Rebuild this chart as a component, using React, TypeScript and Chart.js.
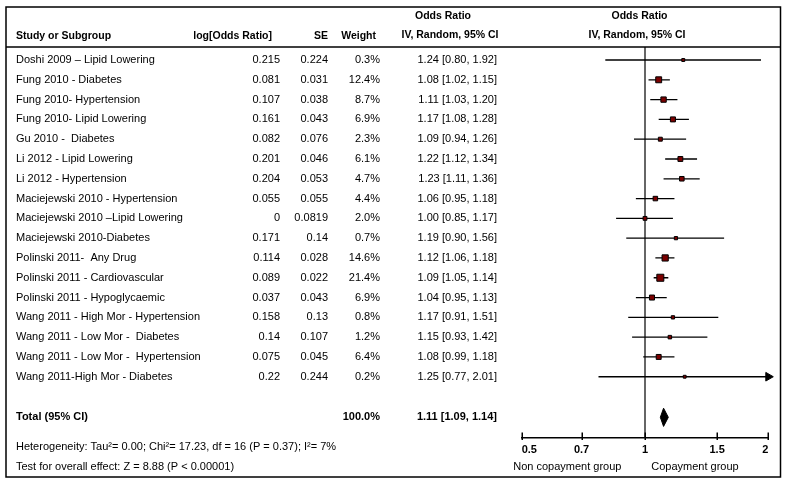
import React, { useEffect, useRef } from "react";
import { Chart, registerables } from "chart.js";

Chart.register(...registerables);

// ---------------- data ----------------
const studies = [
  "Doshi 2009 – Lipid Lowering",
  "Fung 2010 - Diabetes",
  "Fung 2010- Hypertension",
  "Fung 2010- Lipid Lowering",
  "Gu 2010 -  Diabetes",
  "Li 2012 - Lipid Lowering",
  "Li 2012 - Hypertension",
  "Maciejewski 2010 - Hypertension",
  "Maciejewski 2010 –Lipid Lowering",
  "Maciejewski 2010-Diabetes",
  "Polinski 2011-  Any Drug",
  "Polinski 2011 - Cardiovascular",
  "Polinski 2011 - Hypoglycaemic",
  "Wang 2011 - High Mor - Hypertension",
  "Wang 2011 - Low Mor -  Diabetes",
  "Wang 2011 - Low Mor -  Hypertension",
  "Wang 2011-High Mor - Diabetes",
];
const logOddsRatio = [0.215, 0.081, 0.107, 0.161, 0.082, 0.201, 0.204, 0.055, 0, 0.171, 0.114, 0.089, 0.037, 0.158, 0.14, 0.075, 0.22];
const standardErrors = [0.224, 0.031, 0.038, 0.043, 0.076, 0.046, 0.053, 0.055, 0.0819, 0.14, 0.028, 0.022, 0.043, 0.13, 0.107, 0.045, 0.244];
const weights = [0.3, 12.4, 8.7, 6.9, 2.3, 6.1, 4.7, 4.4, 2.0, 0.7, 14.6, 21.4, 6.9, 0.8, 1.2, 6.4, 0.2];
const oddsRatios = [1.24, 1.08, 1.11, 1.17, 1.09, 1.22, 1.23, 1.06, 1.0, 1.19, 1.12, 1.09, 1.04, 1.17, 1.15, 1.08, 1.25];
const ciLower = [0.8, 1.02, 1.03, 1.08, 0.94, 1.12, 1.11, 0.95, 0.85, 0.9, 1.06, 1.05, 0.95, 0.91, 0.93, 0.99, 0.77];
const ciUpper = [1.92, 1.15, 1.2, 1.28, 1.26, 1.34, 1.36, 1.18, 1.17, 1.56, 1.18, 1.14, 1.13, 1.51, 1.42, 1.18, 2.01];

const totalOR = 1.11;
const totalLower = 1.09;
const totalUpper = 1.14;
const totalWeight = 100.0;

const tickValues = [0.5, 0.7, 1, 1.5, 2];
const tickLabels = ["0.5", "0.7", "1", "1.5", "2"];

const headerStudy = "Study or Subgroup";
const headerLogOR = "log[Odds Ratio]";
const headerSE = "SE";
const headerWeight = "Weight";
const headerOR = "Odds Ratio";
const headerMethod = "IV, Random, 95% CI";
const totalLabel = "Total (95% CI)";
const heterogeneityText = "Heterogeneity: Tau²= 0.00; Chi²= 17.23, df = 16 (P = 0.37); I²= 7%";
const overallEffectText = "Test for overall effect: Z = 8.88 (P < 0.00001)";
const favoursLeft = "Non copayment group";
const favoursRight = "Copayment group";

// ---------------- layout constants ----------------
const W = 787;
const H = 494;
const X_MIN = 0.5;
const X_MAX = 2;
const TOTAL_ROW = 18.05;
const Y_MIN = -0.657;
const Y_MAX = 19.07;
const FONT = "'Liberation Sans', Arial, sans-serif";

const fmtCI = (o: number, l: number, u: number) => `${o.toFixed(2)} [${l.toFixed(2)}, ${u.toFixed(2)}]`;

const forestPlugin = {
  id: "forestText",
  afterDraw(chart: any) {
    const ctx = chart.ctx;
    const xs = chart.scales.x;
    const ys = chart.scales.y;
    ctx.save();
    // frame
    ctx.strokeStyle = "#000";
    ctx.lineWidth = 1.5;
    ctx.strokeRect(6, 7, 774.5, 470);
    ctx.beginPath();
    ctx.moveTo(6, 47);
    ctx.lineTo(780.5, 47);
    ctx.stroke();

    // axis tick marks
    const axisY = xs.top;
    ctx.lineWidth = 1.5;
    ctx.beginPath();
    tickValues.forEach((v) => {
      const px = Math.round(xs.getPixelForValue(v)) + 0.25;
      ctx.moveTo(px, axisY - 5);
      ctx.lineTo(px, axisY + 2.5);
    });
    ctx.stroke();

    ctx.fillStyle = "#000";
    ctx.textBaseline = "middle";
    const bold = `bold 10.5px ${FONT}`;
    const reg = `11px ${FONT}`;

    // headers
    ctx.font = bold;
    ctx.textAlign = "left";
    ctx.fillText(headerStudy, 16, 36);
    ctx.textAlign = "right";
    ctx.fillText(headerLogOR, 272, 36);
    ctx.fillText(headerSE, 328, 36);
    ctx.fillText(headerWeight, 376, 36);
    ctx.textAlign = "center";
    ctx.fillText(headerOR, 443, 16);
    ctx.fillText(headerMethod, 450, 35);
    ctx.fillText(headerOR, 639.5, 16);
    ctx.fillText(headerMethod, 637, 35);

    // rows
    ctx.font = reg;
    studies.forEach((name, i) => {
      const y = ys.getPixelForValue(i);
      ctx.textAlign = "left";
      ctx.fillText(name, 16, y);
      ctx.textAlign = "right";
      ctx.fillText(String(logOddsRatio[i]), 280, y);
      ctx.fillText(String(standardErrors[i]), 328, y);
      ctx.fillText(weights[i].toFixed(1) + "%", 380, y);
      ctx.fillText(fmtCI(oddsRatios[i], ciLower[i], ciUpper[i]), 497, y);
    });

    // total
    const ty = ys.getPixelForValue(TOTAL_ROW);
    ctx.font = `bold 11px ${FONT}`;
    ctx.textAlign = "left";
    ctx.fillText(totalLabel, 16, ty);
    ctx.textAlign = "right";
    ctx.fillText(totalWeight.toFixed(1) + "%", 380, ty);
    ctx.fillText(fmtCI(totalOR, totalLower, totalUpper), 497, ty);

    ctx.font = reg;
    ctx.textAlign = "left";
    ctx.fillText(heterogeneityText, 16, 446.7);
    ctx.fillText(overallEffectText, 16, 466.7);
    ctx.textAlign = "center";
    ctx.fillText(favoursLeft, 567.3, 466.7);
    ctx.fillText(favoursRight, 695, 466.7);
    ctx.restore();
  },
};

export default function App() {
  const ref = useRef<HTMLCanvasElement | null>(null);
  useEffect(() => {
    if (!ref.current) return;
    const datasets: any[] = [];
    // study squares
    datasets.push({
      data: studies.map((_, i) => ({ x: oddsRatios[i], y: i })),
      pointStyle: "rect",
      pointRadius: weights.map((w) => (2.4 + Math.sqrt(w)) / Math.SQRT2),
      backgroundColor: "#7a0000",
      borderColor: "#000",
      pointBorderWidth: 1,
      showLine: false,
    });
    // arrows for CIs beyond the axis
    datasets.push({
      data: studies
        .map((_, i) => (ciUpper[i] > X_MAX ? { x: X_MAX, y: i } : null))
        .filter((d) => d !== null),
      pointStyle: "triangle",
      rotation: 90,
      pointRadius: 5,
      backgroundColor: "#000",
      borderColor: "#000",
      pointBorderWidth: 1,
      showLine: false,
      clip: false,
    });
    // summary diamond
    datasets.push({
      data: [
        { x: totalLower, y: TOTAL_ROW },
        { x: totalOR, y: TOTAL_ROW - 0.46 },
        { x: totalUpper, y: TOTAL_ROW },
        { x: totalOR, y: TOTAL_ROW + 0.46 },
        { x: totalLower, y: TOTAL_ROW },
      ],
      showLine: true,
      fill: "shape",
      backgroundColor: "#000",
      borderColor: "#000",
      borderWidth: 1,
      pointRadius: 0,
      tension: 0,
    });
    // confidence intervals
    studies.forEach((_, i) => {
      datasets.push({
        data: [
          { x: Math.max(ciLower[i], X_MIN), y: i },
          { x: Math.min(ciUpper[i], X_MAX), y: i },
        ],
        showLine: true,
        borderColor: "#000",
        borderWidth: 1.3,
        pointRadius: 0,
      });
    });
    // line of no effect
    datasets.push({
      data: [
        { x: 1, y: Y_MIN },
        { x: 1, y: Y_MAX },
      ],
      showLine: true,
      borderColor: "#333",
      borderWidth: 1.5,
      pointRadius: 0,
    });

    const chart = new Chart(ref.current, {
      type: "scatter",
      data: { datasets },
      options: {
        responsive: false,
        animation: false,
        events: [],
        layout: { padding: { left: 521.7, right: W - 768.3, top: 47, bottom: 0 } },
        plugins: {
          legend: { display: false },
          tooltip: { enabled: false },
        },
        scales: {
          x: {
            type: "logarithmic",
            min: X_MIN,
            max: X_MAX,
            position: "bottom",
            afterBuildTicks: (s: any) => {
              s.ticks = tickValues.map((v) => ({ value: v }));
            },
            afterFit: (s: any) => {
              s.height = H - 437.5;
            },
            border: { display: true, color: "#000", width: 1.5 },
            grid: { display: true, drawOnChartArea: false, drawTicks: false },
            ticks: {
              align: "inner",
              autoSkip: false,
              maxRotation: 0,
              padding: 6,
              color: "#000",
              font: { family: FONT, size: 11, weight: "bold" },
              callback: (_v: any, i: number) => tickLabels[i],
            },
          },
          y: {
            type: "linear",
            display: false,
            reverse: true,
            min: Y_MIN,
            max: Y_MAX,
          },
        },
      } as any,
      plugins: [forestPlugin],
    });
    return () => chart.destroy();
  }, []);

  return (
    <div style={{ position: "absolute", left: 0, top: 0, width: W, height: H, background: "#fff" }}>
      <canvas ref={ref} width={W} height={H} style={{ display: "block" }} />
    </div>
  );
}
